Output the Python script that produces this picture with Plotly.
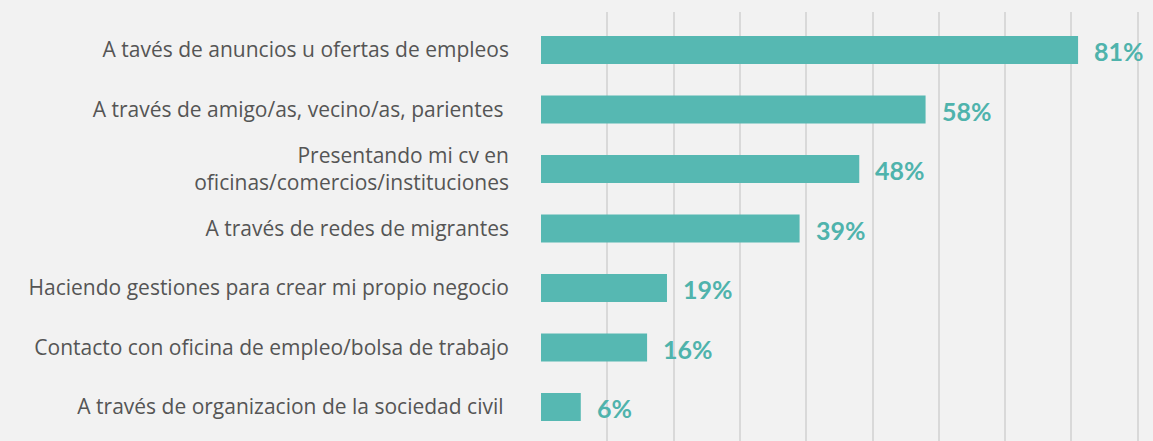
import plotly.graph_objects as go

categories = [
    "A tavés de anuncios u ofertas de empleos",
    "A través de amigo/as, vecino/as, parientes ",
    "Presentando mi cv en<br>oficinas/comercios/instituciones",
    "A través de redes de migrantes",
    "Haciendo gestiones para crear mi propio negocio",
    "Contacto con oficina de empleo/bolsa de trabajo",
    "A través de organizacion de la sociedad civil ",
]
values = [81, 58, 48, 39, 19, 16, 6]
value_labels = ["81%", "58%", "48%", "39%", "19%", "16%", "6%"]

teal = "#56b8b2"

fig = go.Figure()
fig.add_trace(go.Bar(
    y=categories, x=values, orientation="h",
    marker=dict(color=teal, line=dict(width=0)),
    width=0.47, hoverinfo="skip",
))

for c, v, t in zip(categories, values, value_labels):
    fig.add_annotation(x=v, y=c, text="<b>%s</b>" % t, showarrow=False,
                       xanchor="left", yanchor="middle", xshift=14, yshift=-1,
                       font=dict(family="Lato", size=25, color="#4fb3ac"))

fig.update_layout(
    width=1153, height=441,
    margin=dict(l=541, r=0, t=12, b=0),
    paper_bgcolor="#f2f2f2", plot_bgcolor="#f2f2f2",
    showlegend=False,
    xaxis=dict(range=[0, 92.3], dtick=10, tick0=0, showgrid=True,
               gridcolor="#d9d9d9", gridwidth=2, showticklabels=False,
               zeroline=False, showline=False),
    yaxis=dict(range=[6.57, -0.64], showgrid=False, zeroline=False,
               tickfont=dict(family="Open Sans", size=21, color="#555555"),
               ticklabelstandoff=31, ticks=""),
)

fig.write_html("out.html", config={"displayModeBar": False},
               post_script="document.body.style.margin='0';document.body.style.background='#f2f2f2';")
